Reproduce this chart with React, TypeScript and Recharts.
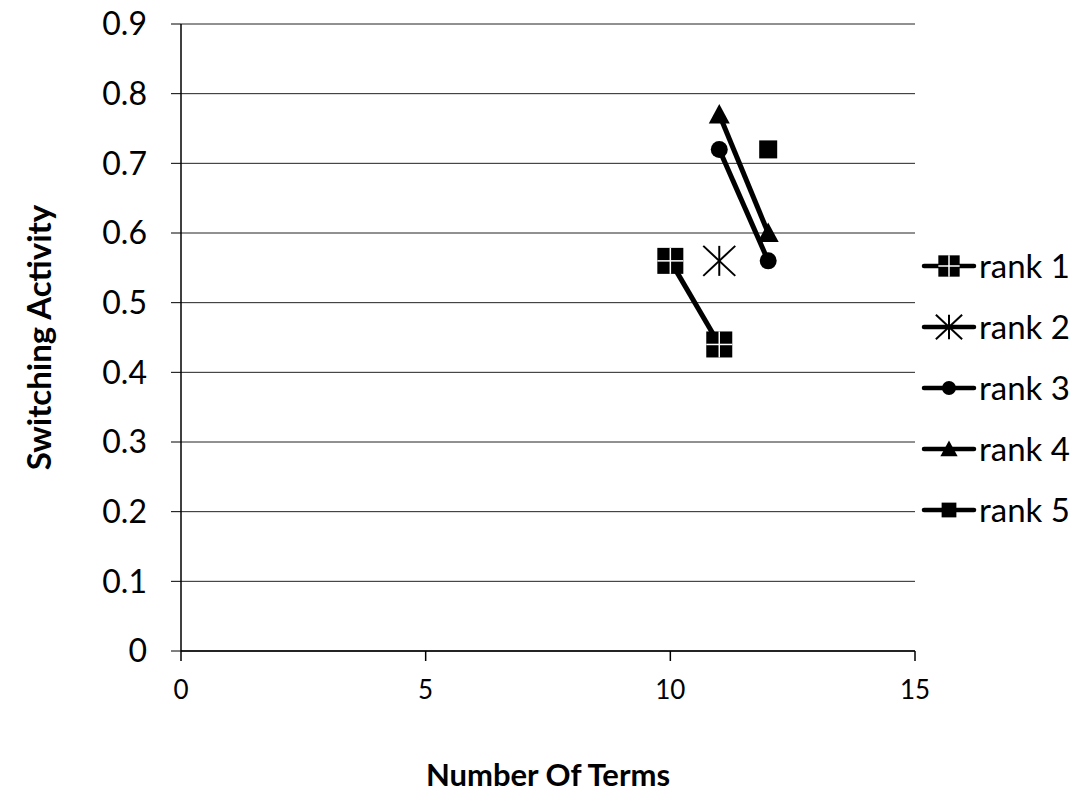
import React from 'react';
import { ScatterChart, Scatter, XAxis, YAxis, CartesianGrid, Legend } from 'recharts';

const seriesNames = ['rank 1', 'rank 2', 'rank 3', 'rank 4', 'rank 5'];
const rank1X = [10, 11];
const rank1Y = [0.56, 0.44];
const rank2X = [11];
const rank2Y = [0.56];
const rank3X = [11, 12];
const rank3Y = [0.72, 0.56];
const rank4X = [11, 12];
const rank4Y = [0.77, 0.6];
const rank5X = [12];
const rank5Y = [0.72];

const xTicks = [0, 5, 10, 15];
const yTicks = [0, 0.1, 0.2, 0.3, 0.4, 0.5, 0.6, 0.7, 0.8, 0.9];

const xTitle = 'Number Of Terms';
const yTitle = 'Switching Activity';

const toPoints = (xs: number[], ys: number[]) => xs.map((x, i) => ({ x, y: ys[i] }));

const FONT = 'Lato, "Open Sans", sans-serif';

type MarkerKind = 'squareCross' | 'star' | 'circle' | 'triangle' | 'square';
const markerKinds: MarkerKind[] = ['squareCross', 'star', 'circle', 'triangle', 'square'];

function Marker({ kind, cx, cy, scale = 1 }: { kind: MarkerKind; cx: number; cy: number; scale?: number }) {
  if (cx == null || cy == null || isNaN(cx) || isNaN(cy)) return null;
  if (kind === 'squareCross') {
    const h = 13 * scale;
    return (
      <g>
        <rect x={cx - h} y={cy - h} width={2 * h} height={2 * h} fill="#000" />
        <line x1={cx} y1={cy - h} x2={cx} y2={cy + h} stroke="#fff" strokeWidth={1.5} />
        <line x1={cx - h} y1={cy} x2={cx + h} y2={cy} stroke="#fff" strokeWidth={1.5} />
      </g>
    );
  }
  if (kind === 'star') {
    const w = 16 * scale;
    const hh = 15 * scale;
    return (
      <g stroke="#000" strokeWidth={2} fill="none">
        <line x1={cx} y1={cy - hh} x2={cx} y2={cy + hh} />
        <line x1={cx - w} y1={cy - hh} x2={cx + w} y2={cy + hh} />
        <line x1={cx - w} y1={cy + hh} x2={cx + w} y2={cy - hh} />
      </g>
    );
  }
  if (kind === 'circle') {
    return <circle cx={cx} cy={cy} r={8.5 * scale} fill="#000" />;
  }
  if (kind === 'triangle') {
    const s = 10.5 * scale;
    return (
      <polygon
        points={`${cx},${cy - s} ${cx - s},${cy + s * 0.85} ${cx + s},${cy + s * 0.85}`}
        fill="#000"
      />
    );
  }
  const h = 9 * scale;
  return <rect x={cx - h} y={cy - h} width={2 * h} height={2 * h} fill="#000" />;
}

const seriesData = [
  toPoints(rank1X, rank1Y),
  toPoints(rank2X, rank2Y),
  toPoints(rank3X, rank3Y),
  toPoints(rank4X, rank4Y),
  toPoints(rank5X, rank5Y),
];

function LegendContent() {
  return (
    <div style={{ display: 'flex', flexDirection: 'column' }}>
      {seriesNames.map((name, i) => (
        <div key={name} style={{ height: 61, display: 'flex', alignItems: 'center' }}>
          <svg width={64} height={40} style={{ display: 'block' }}>
            <line x1={9} y1={20} x2={59} y2={20} stroke="#000" strokeWidth={4.5} strokeLinecap="round" />
            <Marker kind={markerKinds[i]} cx={34} cy={20} scale={0.82} />
          </svg>
          <span style={{ fontFamily: FONT, fontSize: 33, color: '#000', lineHeight: 1 }}>{name}</span>
        </div>
      ))}
    </div>
  );
}

const fmtY = (v: number) => (v === 0 ? '0' : v.toFixed(1));

export default function App() {
  return (
    <div style={{ position: 'absolute', left: 0, top: 0, background: '#fff' }}>
      <ScatterChart width={1084} height={797} margin={{ top: 24, right: 0, bottom: 0, left: 0 }}>
        <CartesianGrid vertical={false} stroke="#222" strokeWidth={1} />
        <XAxis
          dataKey="x"
          type="number"
          domain={[0, 15]}
          ticks={xTicks}
          height={146}
          tickSize={10}
          tickMargin={20}
          axisLine={{ stroke: '#000', strokeWidth: 1.5 }}
          tickLine={{ stroke: '#000', strokeWidth: 1.5 }}
          tick={{ fill: '#000', fontSize: 26, fontFamily: FONT }}
          interval={0}
          allowDataOverflow
          label={(props: any) => {
            const vb = props.viewBox || { x: 181, y: 651, width: 734, height: 146 };
            return (
              <text
                x={vb.x + vb.width / 2}
                y={vb.y + 135}
                textAnchor="middle"
                fontFamily={FONT}
                fontWeight="bold"
                fontSize={31}
                fill="#000"
              >
                {xTitle}
              </text>
            );
          }}
        />
        <YAxis
          dataKey="y"
          type="number"
          domain={[0, 0.9]}
          ticks={yTicks}
          width={181}
          tickSize={10}
          tickMargin={24}
          tickFormatter={fmtY}
          axisLine={{ stroke: '#000', strokeWidth: 1.5 }}
          tickLine={{ stroke: '#000', strokeWidth: 1 }}
          tick={{ fill: '#000', fontSize: 32, fontFamily: FONT }}
          interval={0}
          allowDataOverflow
          label={(props: any) => {
            const vb = props.viewBox || { x: 0, y: 24, width: 181, height: 627 };
            const cx = vb.x + 38;
            const cy = vb.y + vb.height / 2;
            return (
              <text
                x={cx}
                y={cy}
                transform={`rotate(-90 ${cx} ${cy})`}
                textAnchor="middle"
                dominantBaseline="central"
                fontFamily={FONT}
                fontWeight="bold"
                fontSize={33}
                fill="#000"
              >
                {yTitle}
              </text>
            );
          }}
        />
        <Legend
          layout="vertical"
          align="right"
          verticalAlign="top"
          width={169}
          wrapperStyle={{ left: 915, top: 235, width: 169 }}
          content={() => <LegendContent />}
        />
        {seriesNames.map((name, i) => (
          <Scatter
            key={name}
            name={name}
            data={seriesData[i]}
            fill="#000"
            line={{ stroke: '#000', strokeWidth: 5 }}
            lineType="joint"
            isAnimationActive={false}
            shape={(p: any) => <Marker kind={markerKinds[i]} cx={p.cx} cy={p.cy} />}
          />
        ))}
      </ScatterChart>
    </div>
  );
}
